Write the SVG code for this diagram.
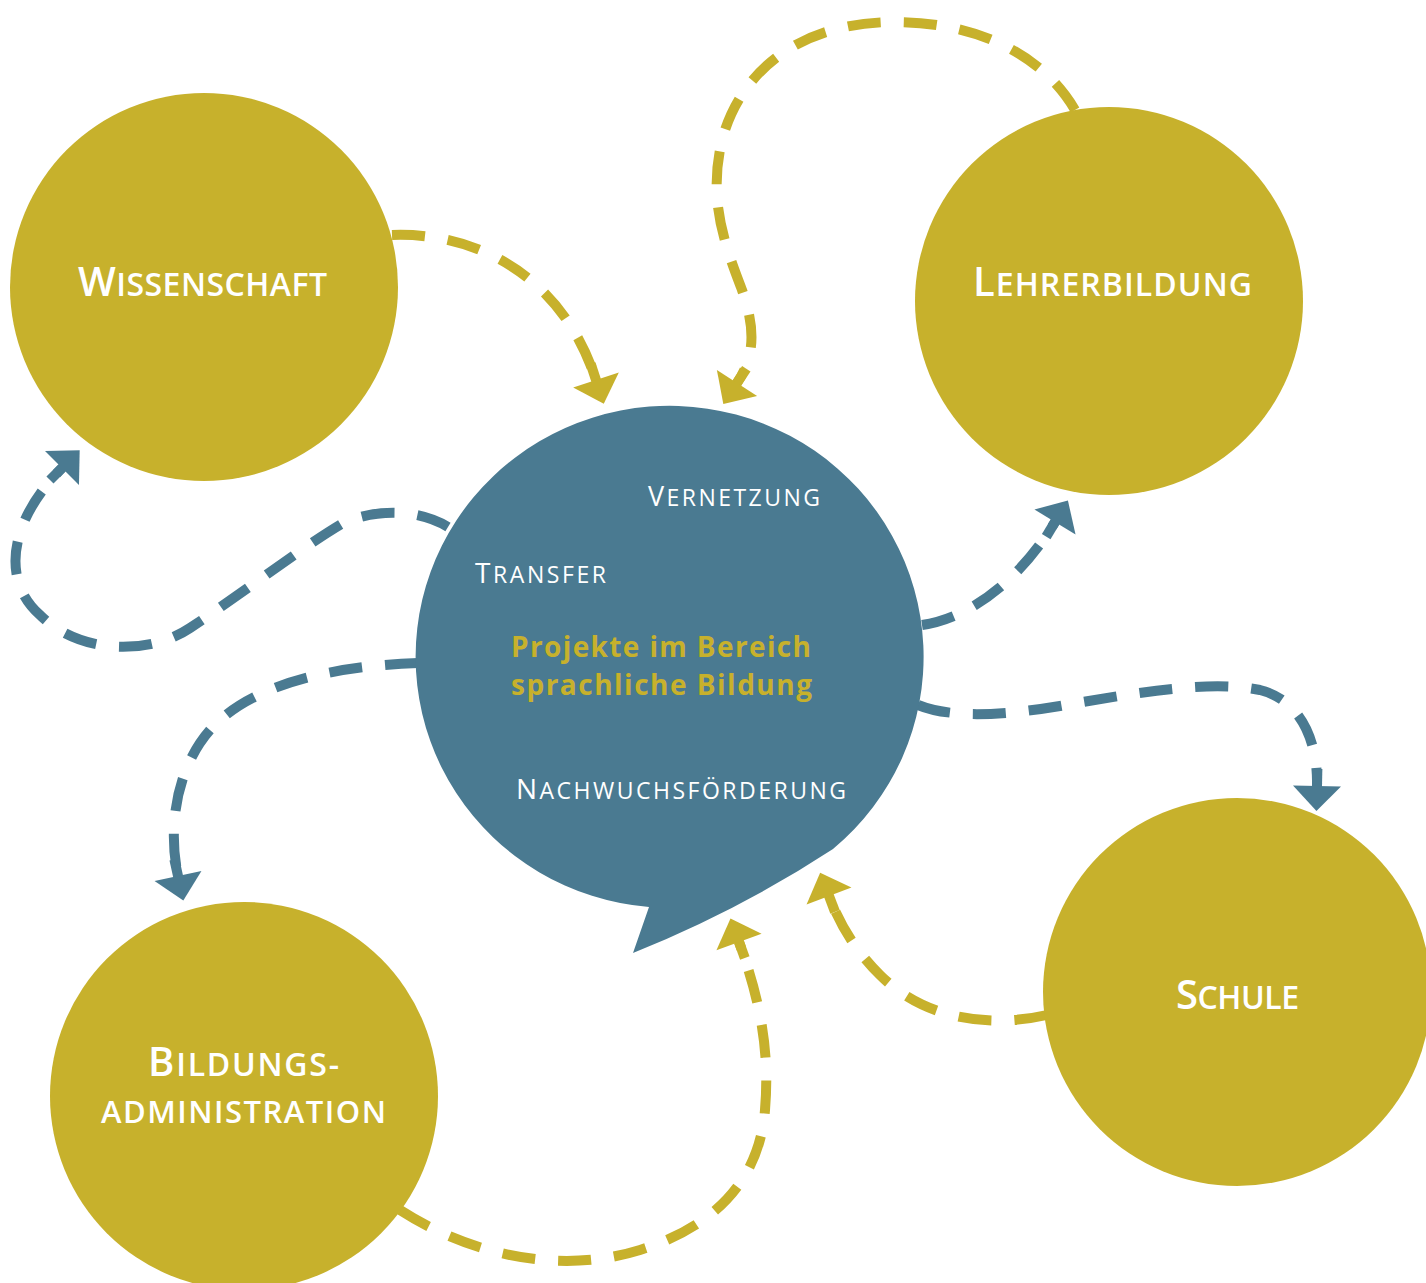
<svg xmlns="http://www.w3.org/2000/svg" width="1426" height="1283" viewBox="0 0 1426 1283">
<style>
.c{fill:none;stroke-width:10;stroke-dasharray:33 23}
.g{stroke:#C7B12C}
.b{stroke:#4A7A91}
.gold{fill:#C7B12C}
.blue{fill:#4A7A91}
.lab{font-family:"Open Sans","Noto Sans",sans-serif;font-weight:600;fill:#FFFFFF}
.sub{font-family:"Open Sans","Noto Sans",sans-serif;font-weight:500;fill:#FFFFFF}
.main{font-family:"Open Sans","Noto Sans",sans-serif;font-weight:700;fill:#C7B12C;font-size:28px}
</style>
<defs>
<marker id="ag" markerUnits="userSpaceOnUse" orient="auto" refX="0" refY="0" markerWidth="60" markerHeight="60" viewBox="-20 -30 50 60" overflow="visible">
<rect x="-17" y="-5" width="18" height="10" fill="#C7B12C"/>
<polygon points="0,-24 25,0 0,24" fill="#C7B12C"/>
</marker>
<marker id="ab" markerUnits="userSpaceOnUse" orient="auto" refX="0" refY="0" markerWidth="60" markerHeight="60" viewBox="-20 -30 50 60" overflow="visible">
<rect x="-17" y="-5" width="18" height="10" fill="#4A7A91"/>
<polygon points="0,-24 25,0 0,24" fill="#4A7A91"/>
</marker>
</defs>
<g id="connectors">
<path class="c g" marker-end="url(#ag)" d="M 392 235 C 470 232, 560 270, 596 380"/>
<path class="c g" marker-end="url(#ag)" d="M 1075 110 C 1040 50, 970 22, 895 22 C 800 22, 745 70, 725 130 C 705 195, 725 245, 742 290 C 758 335, 752 360, 737 383"/>
<path class="c b" marker-end="url(#ab)" d="M 448 527 C 420 510, 380 508, 345 522 C 305 545, 240 595, 190 628 C 150 655, 80 655, 40 615 C 0 580, 10 520, 62 468"/>
<path class="c b" marker-end="url(#ab)" d="M 418 663 C 330 666, 250 685, 210 730 C 175 770, 168 830, 178 876"/>
<path class="c b" marker-end="url(#ab)" d="M 922 625 C 970 618, 1020 580, 1055 522"/>
<path class="c b" marker-end="url(#ab)" d="M 918 705 C 950 718, 1000 716, 1060 706 C 1140 692, 1210 680, 1260 690 C 1300 700, 1318 740, 1317 786"/>
<path class="c g" marker-end="url(#ag)" d="M 1047 1015 C 990 1028, 925 1020, 880 975 C 855 950, 840 925, 829 896"/>
<path class="c g" marker-end="url(#ag)" d="M 400 1210 C 470 1255, 560 1275, 640 1250 C 720 1225, 760 1175, 765 1110 C 770 1050, 760 1000, 739 942"/>
</g>
<g id="center">
<path class="blue" d="M 649 907 L 633 953 Q 740 910 833 849 A 254 251 0 1 0 649 907 Z"/>
<text class="sub" x="648" y="506" textLength="172" lengthAdjust="spacing"><tspan font-size="27">V</tspan><tspan font-size="23">ERNETZUNG</tspan></text>
<text class="sub" x="475" y="583" textLength="131" lengthAdjust="spacing"><tspan font-size="28">T</tspan><tspan font-size="23">RANSFER</tspan></text>
<text class="main" x="511" y="657" textLength="300" lengthAdjust="spacing">Projekte im Bereich</text>
<text class="main" x="511" y="695" textLength="301" lengthAdjust="spacing">sprachliche Bildung</text>
<text class="sub" x="516" y="799" textLength="330" lengthAdjust="spacing"><tspan font-size="28">N</tspan><tspan font-size="23">ACHWUCHSFÖRDERUNG</tspan></text>
</g>
<g id="wissenschaft">
<circle class="gold" cx="204" cy="287" r="194"/>
<text class="lab" x="78" y="296" textLength="249" lengthAdjust="spacing"><tspan font-size="40">W</tspan><tspan font-size="32">ISSENSCHAFT</tspan></text>
</g>
<g id="lehrerbildung">
<circle class="gold" cx="1109" cy="301" r="194"/>
<text class="lab" x="973" y="296" textLength="279" lengthAdjust="spacing"><tspan font-size="40">L</tspan><tspan font-size="32">EHRERBILDUNG</tspan></text>
</g>
<g id="schule">
<circle class="gold" cx="1237" cy="992" r="194"/>
<text class="lab" x="1176" y="1009" textLength="123" lengthAdjust="spacing"><tspan font-size="40">S</tspan><tspan font-size="32">CHULE</tspan></text>
</g>
<g id="bildungsadministration">
<circle class="gold" cx="244" cy="1096" r="194"/>
<text class="lab" x="148" y="1076" textLength="191" lengthAdjust="spacing"><tspan font-size="40">B</tspan><tspan font-size="32">ILDUNGS-</tspan></text>
<text class="lab" x="101" y="1123" textLength="285" lengthAdjust="spacing" font-size="31">ADMINISTRATION</text>
</g>
</svg>
